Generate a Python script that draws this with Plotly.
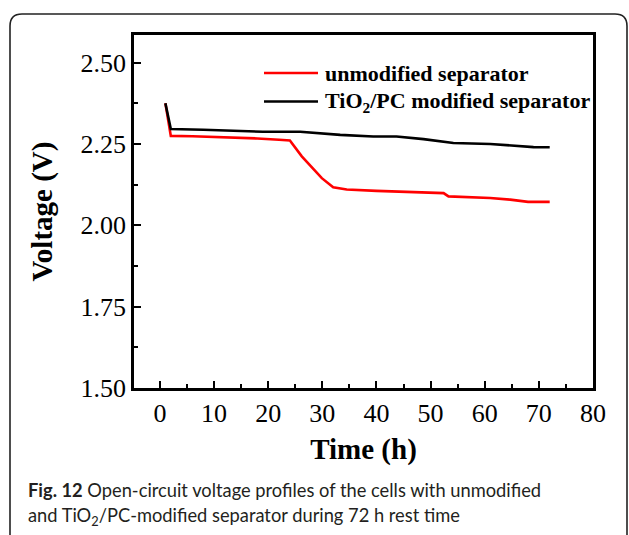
import plotly.graph_objects as go

# Open-circuit voltage during rest (time in h, voltage in V)
t_unmod = [1, 2, 6, 10, 14, 18, 22, 24, 26.2, 28, 29.9, 32, 34.5, 40, 47.4, 52.4, 53.3, 58, 61, 64.7, 68, 72]
v_unmod = [2.375, 2.275, 2.274, 2.272, 2.270, 2.267, 2.263, 2.261, 2.212, 2.181, 2.145, 2.117, 2.110, 2.106, 2.1025, 2.099, 2.089, 2.087, 2.084, 2.079, 2.072, 2.072]

t_mod = [1, 2, 8, 14.8, 19, 25.9, 33.3, 39.4, 43.7, 48.7, 54.2, 61, 65, 69, 72]
v_mod = [2.375, 2.296, 2.294, 2.291, 2.2875, 2.2875, 2.278, 2.273, 2.273, 2.265, 2.253, 2.250, 2.246, 2.2405, 2.240]

series_names = ["unmodified separator", "TiO<sub>2</sub>/PC modified separator"]
series_colors = ["#ff0000", "#000000"]

x_ticks = [0, 10, 20, 30, 40, 50, 60, 70, 80]
y_ticks = [1.50, 1.75, 2.00, 2.25, 2.50]

caption_line1 = "<b>Fig. 12</b> Open-circuit voltage profiles of the cells with unmodified"
caption_line2 = "and TiO<sub>2</sub>/PC-modified separator during 72 h rest time"

W, H = 629, 535
L, R, T, B = 134, 36, 35, 147
pw, ph = W - L - R, H - T - B

def px_x(px):
    return (px - L) / pw

def px_y(py):
    return (H - B - py) / ph

serif = "Liberation Serif, Times New Roman, serif"

fig = go.Figure()
for tx, vy, name, col in [(t_unmod, v_unmod, series_names[0], series_colors[0]),
                          (t_mod, v_mod, series_names[1], series_colors[1])]:
    fig.add_trace(go.Scatter(x=tx, y=vy, mode="lines", name=name,
                             line=dict(color=col, width=2.6), showlegend=False))

shapes = []
annotations = []

# legend entries
for i, (name, col) in enumerate(zip(series_names, series_colors)):
    yy = px_y(73 + i * 28.5)
    shapes.append(dict(type="line", xref="paper", yref="paper",
                       x0=px_x(264), x1=px_x(318), y0=yy, y1=yy,
                       line=dict(color=col, width=2.6)))
    annotations.append(dict(xref="paper", yref="paper", x=px_x(323), y=yy,
                            xanchor="left", yanchor="middle", showarrow=False,
                            text="<b>" + name + "</b>",
                            font=dict(family=serif, size=22, color="black")))

# outer rounded frame of the figure panel
x0, x1 = px_x(10), px_x(627)
y0, y1 = px_y(14), px_y(560)
rx, ry = 12 / pw, 12 / ph
path = (f"M {x0} {y1} L {x0} {y0 - ry} Q {x0} {y0} {x0 + rx} {y0} "
        f"L {x1 - rx} {y0} Q {x1} {y0} {x1} {y0 - ry} L {x1} {y1}")
shapes.append(dict(type="path", xref="paper", yref="paper", path=path,
                   line=dict(color="#222222", width=1.6)))

# caption
cap_font = dict(family="Lato, Open Sans, sans-serif", size=18.3, color="#231f20")
annotations.append(dict(xref="paper", yref="paper", x=px_x(26), y=px_y(490),
                        xanchor="left", yanchor="middle", showarrow=False,
                        text=caption_line1, font=cap_font))
annotations.append(dict(xref="paper", yref="paper", x=px_x(26), y=px_y(516),
                        xanchor="left", yanchor="middle", showarrow=False,
                        text=caption_line2, font=cap_font))

fig.update_layout(
    width=W, height=H,
    margin=dict(l=L, r=R, t=T, b=B),
    paper_bgcolor="white", plot_bgcolor="white",
    shapes=shapes, annotations=annotations,
    xaxis=dict(range=[-4.8, 80], tickvals=x_ticks, ticks="inside", ticklen=7,
               tickwidth=2, tickcolor="black", showline=True, linecolor="black",
               linewidth=2.5, mirror=True, showgrid=False, zeroline=False,
               minor=dict(ticks="inside", dtick=5, tick0=0, ticklen=4, tickwidth=2,
                          tickcolor="black", showgrid=False),
               tickfont=dict(family=serif, size=26, color="black"),
               title=dict(text="<b>Time (h)</b>", standoff=12,
                          font=dict(family=serif, size=29, color="black"))),
    yaxis=dict(range=[1.5, 2.585], tickvals=y_ticks, tickformat=".2f",
               ticks="inside", ticklen=7, tickwidth=2, tickcolor="black",
               showline=True, linecolor="black", linewidth=2.5, mirror=True,
               showgrid=False, zeroline=False,
               minor=dict(ticks="inside", dtick=0.125, tick0=1.5, ticklen=4,
                          tickwidth=2, tickcolor="black", showgrid=False),
               tickfont=dict(family=serif, size=26, color="black"),
               title=dict(text="<b>Voltage (V)</b>", standoff=20,
                          font=dict(family=serif, size=29, color="black"))),
)

fig.write_html("out.html")
